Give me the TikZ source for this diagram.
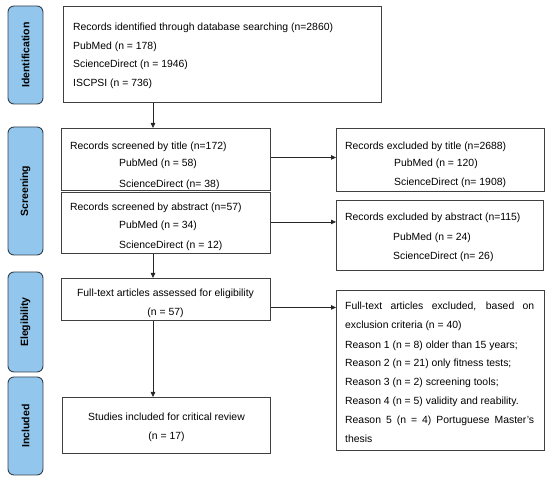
\documentclass[tikz,border=0pt]{standalone}
\usepackage{fontspec}
\setmainfont{Liberation Sans}
\usetikzlibrary{arrows.meta,calc}
\definecolor{labelfill}{HTML}{93C6EC}
\definecolor{labeldraw}{HTML}{33414F}
\definecolor{boxdraw}{HTML}{404040}
\begin{document}
\begin{tikzpicture}[x=1pt,y=-1pt,
  font=\fontsize{10.4}{12}\selectfont,
  box/.style={draw=boxdraw, line width=0.9pt, fill=white, anchor=north west, inner sep=0pt},
  phase/.style={draw=labeldraw, line width=0.9pt, fill=labelfill, rounded corners=6pt,
    rotate=90, minimum height=35pt, inner sep=0pt, font=\fontsize{10.5}{12}\selectfont\bfseries},
  txt/.style={anchor=base west, inner sep=0pt},
  ctxt/.style={anchor=base, inner sep=0pt},
  arr/.style={-{Triangle[length=5pt,width=4.5pt]}, line width=0.8pt, draw=black!85}]
\useasboundingbox (0,0) rectangle (550,481);

% phase labels
\node[phase, minimum width=98pt] (pid) at (25.5,55) {Identification};
\node[phase, minimum width=128pt] (pscr) at (25.5,191) {Screening};
\node[phase, minimum width=100pt] (pel) at (25.5,322) {Elegibility};
\node[phase, minimum width=98pt] (pinc) at (25.5,426) {Included};

% boxes
\node[box, minimum width=318pt, minimum height=96pt] (ident) at (63,6) {};
\node[box, minimum width=209pt, minimum height=62pt] (stitle) at (61,128) {};
\node[box, minimum width=209pt, minimum height=61pt] (sabs) at (61,192) {};
\node[box, minimum width=208pt, minimum height=63pt] (etitle) at (336,128) {};
\node[box, minimum width=207pt, minimum height=70pt] (eabs) at (336,200) {};
\node[box, minimum width=209pt, minimum height=42pt] (elig) at (61,278) {};
\node[box, minimum width=208pt, minimum height=160pt] (efull) at (336,290) {};
\node[box, minimum width=208pt, minimum height=56pt] (incl) at (62,397) {};

% texts: identification
\node[txt] (t1) at (73,31) {Records identified through database searching (n=2860)};
\node[txt] (t2) at (73,50) {PubMed (n = 178)};
\node[txt] (t3) at (73,68) {ScienceDirect (n = 1946)};
\node[txt] (t4) at (73,87) {ISCPSI (n = 736)};

% screened by title
\node[txt] (t5) at (70,150) {Records screened by title (n=172)};
\node[txt] (t6) at (119,167) {PubMed (n = 58)};
\node[txt] (t7) at (119,187.5) {ScienceDirect (n= 38)};
% screened by abstract
\node[txt] (t8) at (70,211) {Records screened by abstract (n=57)};
\node[txt] (t9) at (119,229) {PubMed (n = 34)};
\node[txt] (t10) at (119,249) {ScienceDirect (n = 12)};

% excluded by title
\node[txt] (t11) at (345,150) {Records excluded by title (n=2688)};
\node[txt] (t12) at (394,167) {PubMed (n = 120)};
\node[txt] (t13) at (394,186) {ScienceDirect (n= 1908)};
% excluded by abstract
\node[txt] (t14) at (345,221) {Records excluded by abstract (n=115)};
\node[txt] (t15) at (393,241) {PubMed (n = 24)};
\node[txt] (t16) at (393,260) {ScienceDirect (n= 26)};

% eligibility
\node[ctxt] (t17) at (165.5,297) {Full-text articles assessed for eligibility};
\node[ctxt] (t18) at (165.5,316) {(n = 57)};

% included
\node[ctxt] (t19) at (166.5,421) {Studies included for critical review};
\node[ctxt] (t20) at (166.5,440) {(n = 17)};

% full-text excluded
\node[txt] (r1) at (345,310) {\makebox[189pt][s]{Full-text articles excluded, based on}};
\node[txt] (r2) at (345,329) {exclusion criteria (n = 40)};
\node[txt] (r3) at (345,349) {Reason 1 (n = 8) older than 15 years;};
\node[txt] (r4) at (345,367) {Reason 2 (n = 21) only fitness tests;};
\node[txt] (r5) at (345,386) {Reason 3 (n = 2) screening tools;};
\node[txt] (r6) at (345,405) {Reason 4 (n = 5) validity and reability.};
\node[txt] (r7) at (345,424) {\makebox[189pt][s]{Reason 5 (n = 4) Portuguese Master's}};
\node[txt] (r8) at (345,443) {thesis};

% arrows
\draw[arr] ([xshift=90pt]ident.south west) -- ([xshift=92pt]stitle.north west);
\draw[arr] ([xshift=92pt]sabs.south west) -- ([xshift=92pt]elig.north west);
\draw[arr] ([xshift=92pt]elig.south west) -- ([xshift=91pt]incl.north west);
\draw[arr] ([yshift=2pt]stitle.east) -- ([yshift=2pt]stitle.east -| etitle.west);
\draw[arr] ([yshift=1pt]sabs.east) -- ([yshift=1pt]sabs.east -| eabs.west);
\draw[arr] ([yshift=-8pt]elig.east) -- ([yshift=-8pt]elig.east -| efull.west);
\end{tikzpicture}
\end{document}
